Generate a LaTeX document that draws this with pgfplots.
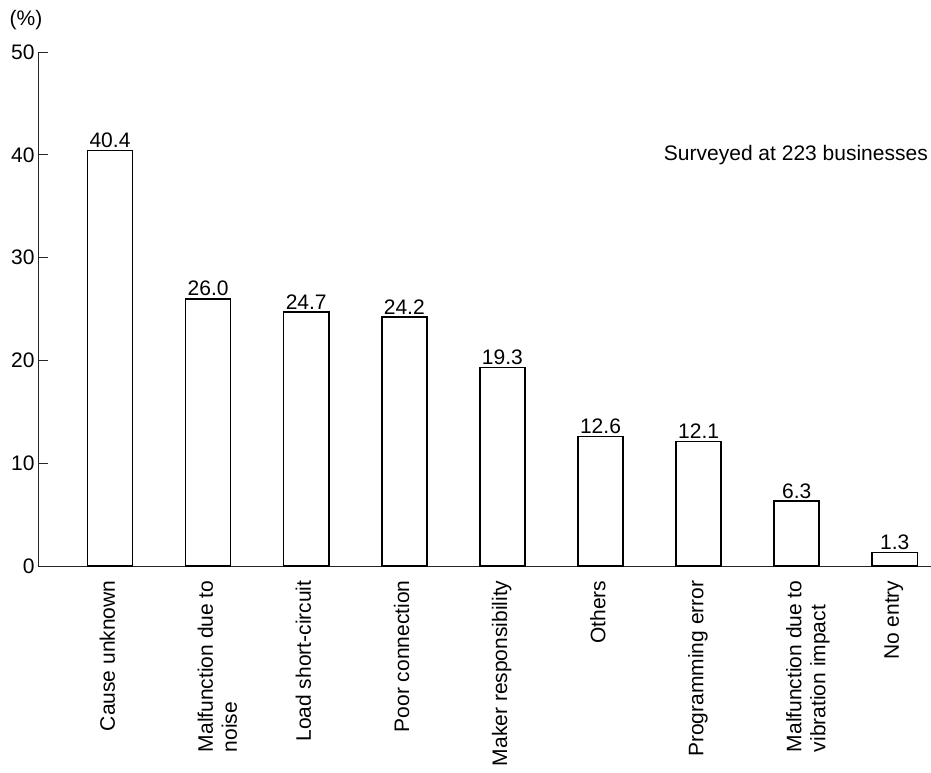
\documentclass[border=0pt]{standalone}
\usepackage{pgfplots}
\pgfplotsset{compat=1.18}
\usepackage{fontspec}
\setmainfont{Liberation Sans}
\newcommand{\chartfont}{\fontsize{21}{24}\selectfont}
\begin{document}
\begin{tikzpicture}[font=\chartfont]
\begin{axis}[
  at={(0pt,0pt)}, anchor=south west,
  scale only axis, width=893pt, height=514pt,
  xmin=-0.734, xmax=8.369, ymin=0, ymax=50,
  axis x line*=bottom, axis y line*=left,
  axis line style={-, line width=0.8pt, black!85},
  /pgf/number format/assume math mode=true,
  ytick={0,10,20,30,40,50},
  ytick style={line width=0.8pt, black!85},
  major tick length=10pt,
  tick align=inside,
  xtick={0,...,8},
  xtick style={draw=none},
  tick label style={font=\chartfont},
  xticklabels={Cause unknown,{Malfunction due to\\noise},Load short-circuit,Poor connection,Maker responsibility,Others,Programming error,{Malfunction due to\\vibration impact},No entry},
  xticklabel style={xshift=-14pt, yshift=-1pt, rotate=90, anchor=north east, align=left},
  ybar, bar width=0.46,
  nodes near coords,
  nodes near coords style={font=\chartfont, inner sep=2pt, anchor=south,
    /pgf/number format/.cd, fixed, fixed zerofill, precision=1},
]
\addplot[fill=white, draw=black, line width=1.6pt] coordinates {
 (0,40.4) (1,26.0) (2,24.7) (3,24.2) (4,19.3) (5,12.6) (6,12.1) (7,6.3) (8,1.3)
};
\end{axis}
\node at (-12pt,546pt) {(\%)};
\node[anchor=base east, inner sep=0pt] at (890pt,405pt) {Surveyed at 223 businesses};
\pgfresetboundingbox
\useasboundingbox (-38pt,-206pt) rectangle (893pt,566pt);
\end{tikzpicture}
\end{document}
